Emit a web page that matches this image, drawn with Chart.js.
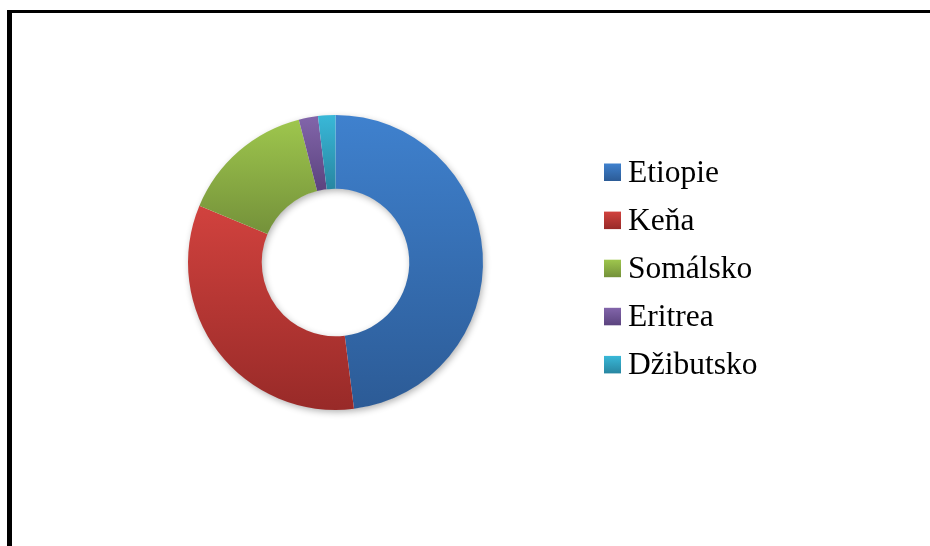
<!DOCTYPE html>
<html>
<head>
<meta charset="utf-8">
<script src="https://cdn.jsdelivr.net/npm/chart.js@4/dist/chart.umd.min.js"></script>
<style>
  html, body { margin: 0; padding: 0; background: #ffffff; overflow: hidden; width: 930px; height: 546px; }
  #wrap { position: relative; width: 930px; height: 546px; }
  #c { position: absolute; left: 0; top: 0; }
  #frame { position: absolute; left: 7px; top: 10px; width: 940px; height: 560px;
           border-left: 5px solid #000; border-top: 3px solid #000; pointer-events: none; }
</style>
</head>
<body>
<div id="wrap">
  <canvas id="c" width="930" height="546"></canvas>
  <div id="frame"></div>
</div>
<script>
const labels = ['Etiopie', 'Keňa', 'Somálsko', 'Eritrea', 'Džibutsko'];
const values = [48.0, 33.3, 14.7, 2.1, 1.9];

const topColors = ['#3f81ce', '#d1423e', '#9ec64d', '#8265aa', '#39b8d8'];
const bottomColors = ['#2c5b96', '#982a28', '#74913a', '#5b437e', '#2886a1'];

function geometry(chart) {
  const a = chart.chartArea;
  const cx = (a.left + a.right) / 2, cy = (a.top + a.bottom) / 2;
  const R = Math.min(a.right - a.left, a.bottom - a.top) / 2;
  return { cx, cy, R, r: R * 0.5 };
}

function sliceGradient(context) {
  const chart = context.chart;
  const i = context.dataIndex;
  if (!chart.chartArea) return topColors[i];
  const g = geometry(chart);
  const total = values.reduce((s, v) => s + v, 0);
  let start = -Math.PI / 2;
  for (let k = 0; k < i; k++) start += values[k] / total * Math.PI * 2;
  const end = start + values[i] / total * Math.PI * 2;
  const angs = [start, end];
  for (let m = -4; m <= 8; m++) {
    const q = m * Math.PI / 2;
    if (q > start && q < end) angs.push(q);
  }
  let ymin = Infinity, ymax = -Infinity;
  angs.forEach(t => {
    [g.R, g.r].forEach(rad => {
      const y = g.cy + rad * Math.sin(t);
      ymin = Math.min(ymin, y); ymax = Math.max(ymax, y);
    });
  });
  const grad = chart.ctx.createLinearGradient(0, ymin, 0, ymax);
  grad.addColorStop(0, topColors[i]);
  grad.addColorStop(1, bottomColors[i]);
  return grad;
}

const shadowPlugin = {
  id: 'ringShadow',
  beforeDatasetsDraw(chart) {
    const g = geometry(chart);
    const ctx = chart.ctx;
    ctx.save();
    ctx.shadowColor = 'rgba(0,0,0,0.32)';
    ctx.shadowBlur = 7;
    ctx.shadowOffsetX = 1.5;
    ctx.shadowOffsetY = 2.5;
    ctx.fillStyle = '#ffffff';
    ctx.beginPath();
    ctx.arc(g.cx, g.cy, g.R - 0.5, 0, Math.PI * 2);
    ctx.arc(g.cx, g.cy, g.r + 0.5, 0, Math.PI * 2, true);
    ctx.fill('evenodd');
    ctx.restore();
  }
};

const legendPlugin = {
  id: 'sideLegend',
  afterDraw(chart) {
    const ctx = chart.ctx;
    ctx.save();
    ctx.font = '31.5px "Liberation Serif", "Times New Roman", serif';
    ctx.textBaseline = 'alphabetic';
    ctx.textAlign = 'left';
    const x0 = 604, box = 17.5, base0 = 181, step = 48.1;
    labels.forEach((lab, i) => {
      const by = base0 + i * step;
      const grad = ctx.createLinearGradient(0, by - box, 0, by);
      grad.addColorStop(0, topColors[i]);
      grad.addColorStop(1, bottomColors[i]);
      ctx.fillStyle = grad;
      ctx.fillRect(x0, by - box, 17, box);
      ctx.fillStyle = '#000000';
      ctx.fillText(lab, 628, by + 0.7);
    });
    ctx.restore();
  }
};

new Chart(document.getElementById('c'), {
  type: 'doughnut',
  data: {
    labels: labels,
    datasets: [{
      data: values,
      backgroundColor: sliceGradient,
      borderWidth: 0,
      hoverOffset: 0
    }]
  },
  options: {
    responsive: false,
    animation: false,
    cutout: '50%',
    layout: { padding: { left: 188, right: 447, top: 115, bottom: 136 } },
    plugins: {
      legend: { display: false },
      tooltip: { enabled: false }
    }
  },
  plugins: [shadowPlugin, legendPlugin]
});
</script>
</body>
</html>
